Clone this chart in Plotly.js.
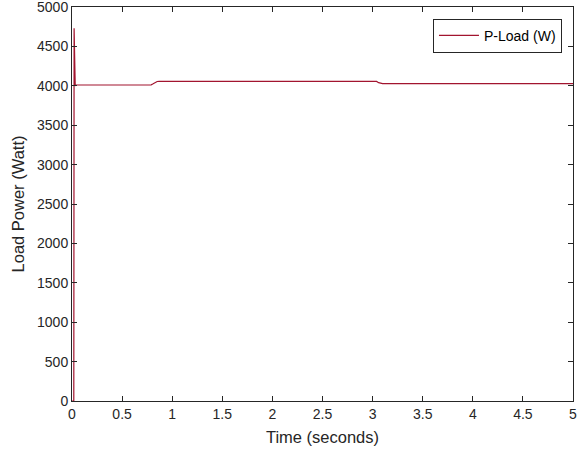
<!DOCTYPE html>
<html>
<head>
<meta charset="utf-8">
<script src="https://cdn.plot.ly/plotly-3.0.1.min.js"></script>
<style>html,body{margin:0;padding:0;background:#fff;}#chart{width:586px;height:451px;}</style>
</head>
<body>
<div id="chart"></div>
<script>
const timeSec = [0, 0.012, 0.018, 0.021, 0.024, 0.027, 0.032, 0.04, 0.1, 0.3, 0.5, 0.7, 0.79, 0.81, 0.83, 0.85, 0.87, 0.9, 1.2, 1.5, 2.0, 2.5, 3.0, 3.04, 3.06, 3.08, 3.1, 3.3, 3.6, 4.0, 4.5, 5.0];
const pLoad   = [0, 0, 0, 4730, 4400, 4050, 4000, 4012, 4010, 4010, 4010, 4010, 4012, 4025, 4045, 4055, 4058, 4058, 4058, 4058, 4058, 4058, 4058, 4055, 4040, 4030, 4028, 4028, 4028, 4028, 4028, 4028];
const seriesName = 'P-Load (W)';
const xTicks = [0, 0.5, 1, 1.5, 2, 2.5, 3, 3.5, 4, 4.5, 5];
const yTicks = [0, 500, 1000, 1500, 2000, 2500, 3000, 3500, 4000, 4500, 5000];

const FONT = 'Liberation Sans, Arial, sans-serif';
const axisCommon = {
  showline: true, linecolor: '#262626', linewidth: 1, mirror: 'ticks',
  ticks: 'inside', ticklen: 5, tickcolor: '#262626', showgrid: false, zeroline: false,
  ticklabeloverflow: 'allow',
  tickfont: {family: FONT, size: 14, color: '#262626'}
};

Plotly.newPlot('chart', [{
  x: timeSec, y: pLoad, type: 'scatter', mode: 'lines', name: seriesName,
  line: {color: '#a2142f', width: 1.2}
}], {
  width: 586, height: 451,
  margin: {l: 72, r: 13, t: 7, b: 50},
  paper_bgcolor: '#fff', plot_bgcolor: '#fff',
  showlegend: true,
  legend: {x: 0.978, y: 0.97, xanchor: 'right', yanchor: 'top', bgcolor: '#fff',
    bordercolor: '#262626', borderwidth: 1, tracegroupgap: 0, itemwidth: 40,
    font: {family: FONT, size: 14, color: '#000'}},
  xaxis: Object.assign({}, axisCommon, {range: [0, 5], tickvals: xTicks, ticktext: xTicks.map(String),
    automargin: false,
    title: {text: 'Time (seconds)', standoff: 10, font: {family: FONT, size: 16.5, color: '#262626'}}}),
  yaxis: Object.assign({}, axisCommon, {range: [0, 5000], tickvals: yTicks, ticktext: yTicks.map(String),
    automargin: false,
    title: {text: 'Load Power (Watt)', standoff: 8, font: {family: FONT, size: 16.5, color: '#262626'}}})
}, {displayModeBar: false, staticPlot: true});
</script>
</body>
</html>
